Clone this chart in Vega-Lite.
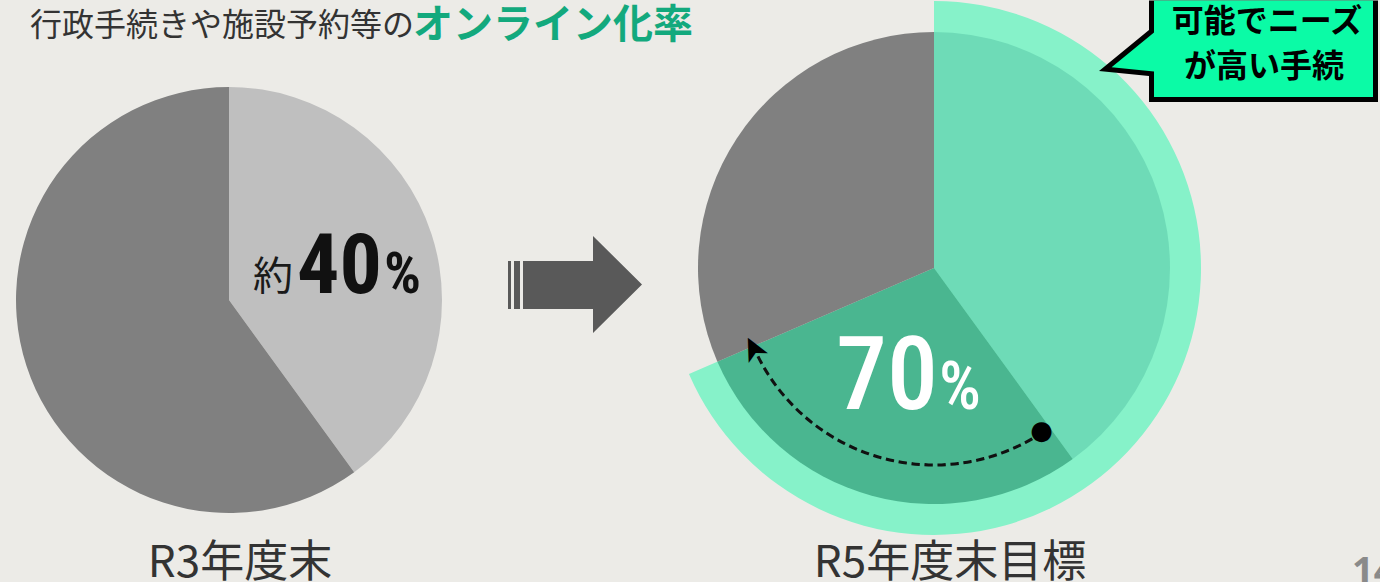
{
  "$schema": "https://vega.github.io/schema/vega-lite/v6.json",
  "background": "#ECEBE7",
  "padding": 0,
  "spacing": 0,
  "bounds": "flush",
  "resolve": {"scale": {"color": "independent", "theta": "independent"}},
  "config": {"view": {"stroke": null}, "font": "Noto Sans CJK JP"},
  "datasets": {
    "r3": [
      {"区分": "オンライン化済み", "割合": 40, "k": 1},
      {"区分": "未対応", "割合": 60, "k": 2}
    ],
    "r5": [
      {"区分": "オンライン化済み", "割合": 40, "k": 1},
      {"区分": "R5年度末までに追加", "割合": 28.5, "k": 2},
      {"区分": "未対応", "割合": 31.5, "k": 3}
    ],
    "ring": [
      {"区分": "可能でニーズが高い手続", "開始": 0, "終了": 68.5}
    ],
    "move": [
      {"開始": 40.7, "終了": 68.3}
    ]
  },
  "hconcat": [
    {
      "width": 458,
      "height": 600,
      "data": {"name": "r3"},
      "layer": [
        {
          "mark": {"type": "arc", "outerRadius": 213},
          "encoding": {
            "theta": {"field": "割合", "type": "quantitative", "stack": true, "scale": {"domain": [0, 100]}},
            "order": {"field": "k", "type": "quantitative"},
            "color": {"field": "区分", "type": "nominal", "scale": {"domain": ["オンライン化済み", "未対応"], "range": ["#BFBFBF", "#808080"]}, "legend": null}
          }
        },
        {
          "data": {"values": [{"a": "行政手続きや施設予約等の", "b": "オンライン化率"}]},
          "mark": {"type": "text", "align": "left", "baseline": "alphabetic", "dx": -199, "dy": -264, "fontSize": 32, "color": "#333333", "font": "Noto Sans CJK JP"},
          "encoding": {"text": {"field": "a", "type": "nominal"}}
        },
        {
          "data": {"values": [{"a": "行政手続きや施設予約等の", "b": "オンライン化率"}]},
          "mark": {"type": "text", "align": "left", "baseline": "alphabetic", "dx": 184, "dy": -262, "fontSize": 40, "fontWeight": "bold", "color": "#13A97D", "font": "Noto Sans CJK JP"},
          "encoding": {"text": {"field": "b", "type": "nominal"}}
        },
        {
          "data": {"values": [{"t": "約"}]},
          "mark": {"type": "text", "align": "right", "baseline": "alphabetic", "dx": 64, "dy": -10, "fontSize": 40, "color": "#1A1A1A", "font": "Noto Sans CJK JP"},
          "encoding": {"text": {"field": "t", "type": "nominal"}}
        },
        {
          "transform": [{"filter": "datum.k == 1"}],
          "mark": {"type": "text", "align": "right", "baseline": "alphabetic", "dx": 153, "dy": -7, "fontSize": 84, "fontWeight": "bold", "color": "#111111", "font": "Roboto Condensed, Liberation Sans Narrow, DejaVu Sans Condensed, Roboto, sans-serif"},
          "encoding": {"text": {"field": "割合", "type": "nominal"}}
        },
        {
          "data": {"values": [{"t": "%"}]},
          "mark": {"type": "text", "align": "left", "baseline": "alphabetic", "dx": 155, "dy": -7, "fontSize": 58, "fontWeight": "bold", "color": "#111111", "font": "Roboto Condensed, Liberation Sans Narrow, DejaVu Sans Condensed, Roboto, sans-serif"},
          "encoding": {"text": {"field": "t", "type": "nominal"}}
        },
        {
          "data": {"values": [{"t": "R3年度末"}]},
          "mark": {"type": "text", "align": "center", "baseline": "alphabetic", "dx": 11, "dy": 277, "fontSize": 44, "color": "#333333", "font": "Noto Sans CJK JP"},
          "encoding": {"text": {"field": "t", "type": "nominal"}}
        }
      ]
    },
    {
      "width": 234,
      "height": 570,
      "data": {"values": [{"t": "→"}]},
      "mark": {"type": "point", "shape": "M-1.34,-0.48H-1.28V0.48H-1.34Z M-1.22,-0.48H-1.1V0.48H-1.22Z M-1.04,-0.48H0.36V-0.98L1.34,-0.01L0.36,0.96V0.48H-1.04Z", "size": 10000, "filled": true, "color": "#595959", "opacity": 1, "strokeWidth": 0},
      "encoding": {}
    },
    {
      "width": 484,
      "height": 536,
      "layer": [
        {
          "data": {"name": "ring"},
          "mark": {"type": "arc", "outerRadius": 267, "color": "#86F2C9"},
          "encoding": {
            "theta": {"field": "開始", "type": "quantitative", "scale": {"domain": [0, 100]}},
            "theta2": {"field": "終了"}
          }
        },
        {
          "data": {"name": "r5"},
          "mark": {"type": "arc", "outerRadius": 236},
          "encoding": {
            "theta": {"field": "割合", "type": "quantitative", "stack": true, "scale": {"domain": [0, 100]}},
            "order": {"field": "k", "type": "quantitative"},
            "color": {"field": "区分", "type": "nominal", "scale": {"domain": ["オンライン化済み", "R5年度末までに追加", "未対応"], "range": ["#6EDBB7", "#4AB690", "#808080"]}, "legend": null}
          }
        },
        {
          "data": {"name": "move"},
          "mark": {"type": "arc", "innerRadius": 197, "outerRadius": 197, "filled": false, "fill": "transparent", "stroke": "#111111", "strokeWidth": 3, "strokeDash": [8, 5], "strokeDashOffset": 0.37},
          "encoding": {
            "theta": {"field": "開始", "type": "quantitative", "scale": {"domain": [0, 100]}},
            "theta2": {"field": "終了"}
          }
        },
        {
          "data": {"name": "move"},
          "mark": {"type": "text", "text": "●", "radius": 195, "align": "center", "baseline": "middle", "fontSize": 26, "color": "#000000", "font": "DejaVu Sans"},
          "encoding": {
            "theta": {"field": "開始", "type": "quantitative", "scale": {"domain": [0, 100]}}
          }
        },
        {
          "data": {"name": "move"},
          "mark": {"type": "text", "text": "➤", "radius": 197, "align": "center", "baseline": "middle", "fontSize": 34, "angle": 243, "color": "#000000", "font": "DejaVu Sans"},
          "encoding": {
            "theta": {"field": "終了", "type": "quantitative", "scale": {"domain": [0, 100]}}
          }
        },
        {
          "data": {"values": [{"t": "70"}]},
          "mark": {"type": "text", "align": "right", "baseline": "alphabetic", "dx": 4, "dy": 141, "fontSize": 102, "fontWeight": 500, "color": "#FFFFFF", "font": "Roboto Condensed, Liberation Sans Narrow, DejaVu Sans Condensed, Roboto, sans-serif"},
          "encoding": {"text": {"field": "t", "type": "nominal"}}
        },
        {
          "data": {"values": [{"t": "%"}]},
          "mark": {"type": "text", "align": "left", "baseline": "alphabetic", "dx": 5, "dy": 141, "fontSize": 66, "fontWeight": 500, "color": "#FFFFFF", "font": "Roboto Condensed, Liberation Sans Narrow, DejaVu Sans Condensed, Roboto, sans-serif"},
          "encoding": {"text": {"field": "t", "type": "nominal"}}
        },
        {
          "data": {"values": [{"t": "R5年度末目標"}]},
          "mark": {"type": "text", "align": "center", "baseline": "alphabetic", "dx": 16, "dy": 309, "fontSize": 44, "color": "#333333", "font": "Noto Sans CJK JP"},
          "encoding": {"text": {"field": "t", "type": "nominal"}}
        }
      ]
    },
    {
      "width": 204,
      "height": 96,
      "layer": [
        {
          "data": {"values": [{"t": "border"}]},
          "mark": {"type": "point", "shape": "M-1.29,-0.475L-1.29,-0.18L-1.79,0.23L-1.29,0.28L-1.29,0.54L1,0.54L1,-0.475Z", "size": 40000, "filled": true, "color": "#000000", "opacity": 1, "strokeWidth": 0},
          "encoding": {}
        },
        {
          "data": {"values": [{"t": "box"}]},
          "mark": {"type": "point", "shape": "M-1.24,-0.475L-1.24,-0.156L-1.664,0.192L-1.24,0.2345L-1.24,0.49L0.95,0.49L0.95,-0.475Z", "size": 40000, "filled": true, "color": "#0BFBA6", "opacity": 1, "strokeWidth": 0},
          "encoding": {}
        },
        {
          "data": {"values": [{"t": "可能でニーズ"}]},
          "mark": {"type": "text", "align": "center", "baseline": "alphabetic", "dx": -11, "dy": -16, "fontSize": 32, "fontWeight": "bold", "color": "#000000", "font": "Noto Sans CJK JP"},
          "encoding": {"text": {"field": "t", "type": "nominal"}}
        },
        {
          "data": {"values": [{"t": "が高い手続"}]},
          "mark": {"type": "text", "align": "center", "baseline": "alphabetic", "dx": -14, "dy": 29, "fontSize": 32, "fontWeight": "bold", "color": "#000000", "font": "Noto Sans CJK JP"},
          "encoding": {"text": {"field": "t", "type": "nominal"}}
        },
        {
          "data": {"values": [{"t": "14"}]},
          "mark": {"type": "text", "align": "left", "baseline": "alphabetic", "dx": 74, "dy": 536, "fontSize": 38, "fontWeight": "bold", "color": "#8A8A8A", "font": "Noto Sans"},
          "encoding": {"text": {"field": "t", "type": "nominal"}}
        }
      ]
    }
  ]
}
